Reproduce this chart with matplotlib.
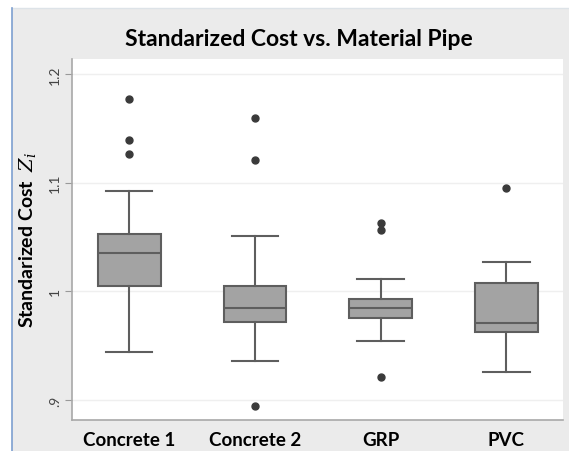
import matplotlib
matplotlib.use("Agg")
import matplotlib.pyplot as plt
from matplotlib.patches import Rectangle
from matplotlib.lines import Line2D

# box plot statistics
materials = ["Concrete 1", "Concrete 2", "GRP", "PVC"]
whisker_lo = [0.9445, 0.9359, 0.9543, 0.9260]
q1 = [1.0052, 0.9721, 0.9758, 0.9623]
median = [1.0356, 0.9844, 0.9844, 0.9706]
q3 = [1.0525, 1.0046, 0.9927, 1.0077]
whisker_hi = [1.0920, 1.0510, 1.0110, 1.0273]
outliers = [[1.1767, 1.1396, 1.1267], [1.1592, 1.1209, 0.8948],
            [1.0629, 1.0564, 0.9209], [1.0951]]
yticks = [0.9, 1.0, 1.1, 1.2]
ytick_labels = [".9", "1", "1.1", "1.2"]

plt.rcParams["mathtext.fontset"] = "dejavuserif"

W, H = 569, 452
fig = plt.figure(figsize=(W / 100, H / 100), dpi=100)
fig.patch.set_facecolor("white")

# grey chart background with thin borders
fig.patches.append(Rectangle((12 / W, 0), 1 - 12 / W, 1 - 9 / H, transform=fig.transFigure,
                             facecolor="#ebebeb", edgecolor="none", zorder=-2))
fig.lines.append(Line2D([12 / W, 1], [1 - 9 / H, 1 - 9 / H], transform=fig.transFigure,
                        color="#dde3e8", lw=1))
fig.lines.append(Line2D([12 / W, 12 / W], [0, 1 - 9 / H], transform=fig.transFigure,
                        color="#7d9fd0", lw=1.2))

ax = fig.add_axes([72 / W, 1 - 421 / H, (563 - 72) / W, (421 - 60) / H])
ax.set_facecolor("white")

stats = []
for i, name in enumerate(materials):
    stats.append(dict(label=name, whislo=whisker_lo[i], q1=q1[i], med=median[i],
                      q3=q3[i], whishi=whisker_hi[i], fliers=outliers[i]))

edge = "#5e5e5e"
ax.bxp(stats, positions=range(1, 5), widths=0.5, patch_artist=True,
       boxprops=dict(facecolor="#a3a3a3", edgecolor=edge, linewidth=1.5),
       medianprops=dict(color=edge, linewidth=1.5),
       whiskerprops=dict(color=edge, linewidth=1.5),
       capprops=dict(color=edge, linewidth=1.5),
       capwidths=0.37,
       flierprops=dict(marker="o", markerfacecolor="#3a3a3a", markeredgecolor="#3a3a3a",
                       markersize=5))

ax.set_xlim(0.545, 4.45)
ax.set_ylim(0.8816, 1.2138)
ax.set_yticks(yticks)
ax.set_yticklabels(ytick_labels, rotation=90, va="center", fontsize=10,
                   color="#444444", family="Lato")
ax.yaxis.grid(True, color="#efefef", lw=1)
ax.set_axisbelow(True)
ax.tick_params(axis="y", length=5, color="#999999", pad=3)
ax.tick_params(axis="x", length=0, pad=8)
for lab in ax.get_xticklabels():
    lab.set_fontfamily("Lato")
    lab.set_fontweight("bold")
    lab.set_fontsize(13.5)
    lab.set_color("black")

for side in ["top", "right"]:
    ax.spines[side].set_visible(False)
ax.spines["left"].set_color("#a8a8a8")
ax.spines["bottom"].set_color("#a8a8a8")
ax.spines["left"].set_linewidth(1.2)
ax.spines["bottom"].set_linewidth(1.2)

ax.set_ylabel(r"Standarized Cost  $Z_i$", fontsize=14, fontweight="bold",
              family="Lato", labelpad=8)
fig.text(0.525, 1 - 39 / H, "Standarized Cost vs. Material Pipe", ha="center", va="center",
         fontsize=16.5, fontweight="bold", family="Lato")

fig.savefig("out.png", dpi=100)
